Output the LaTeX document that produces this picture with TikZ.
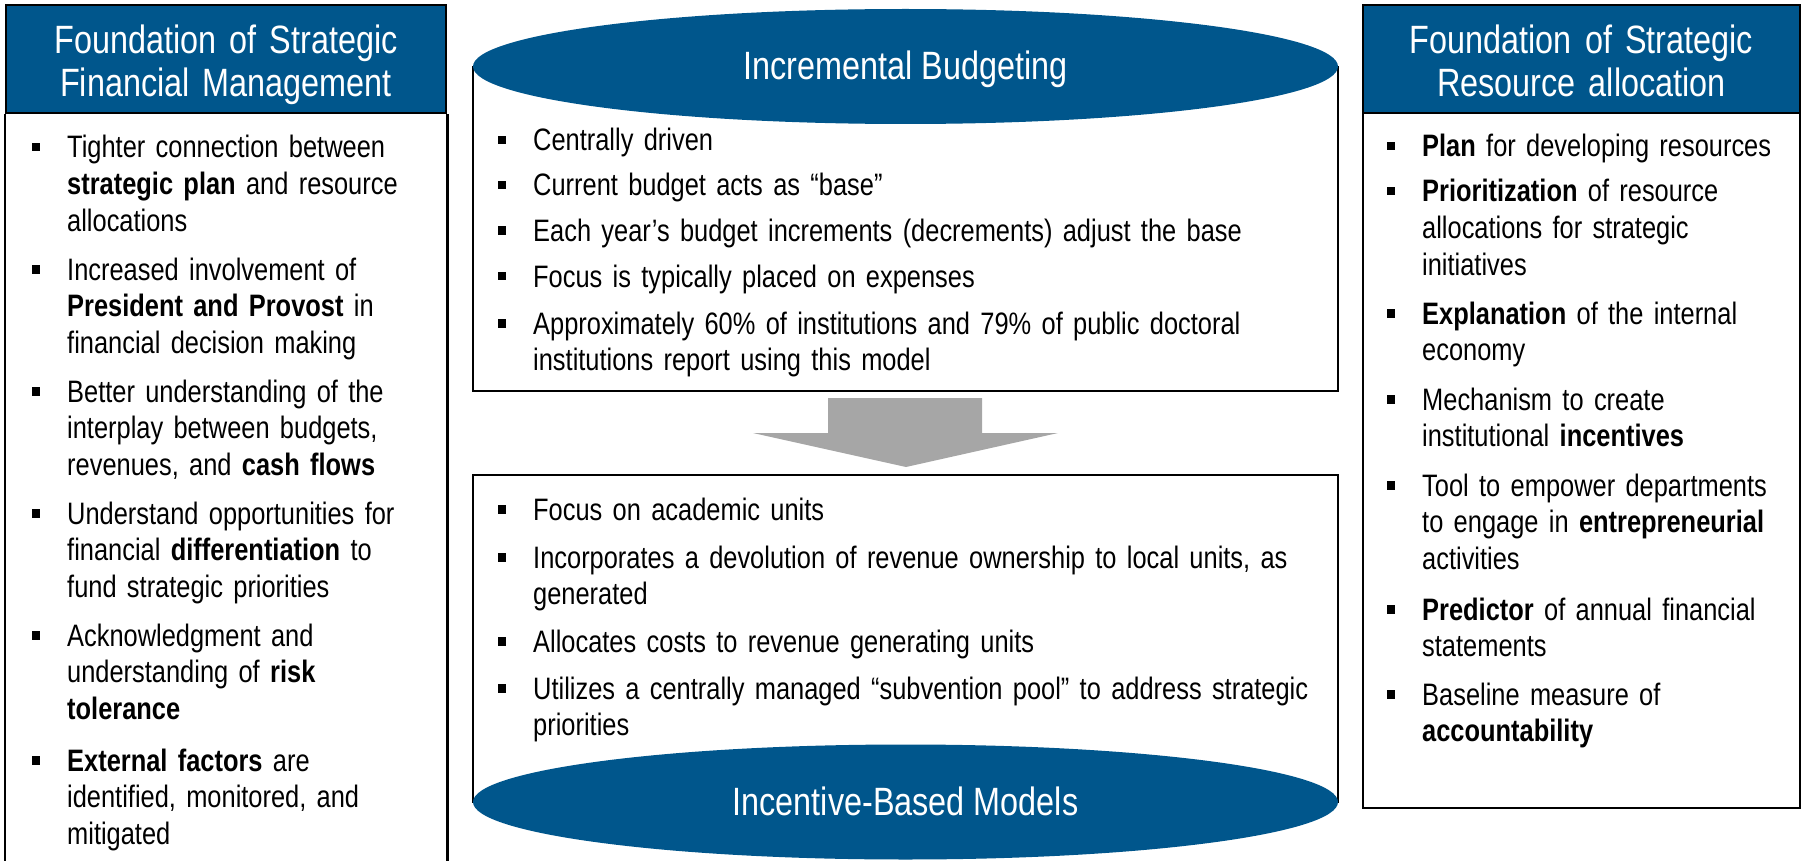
\documentclass[tikz,border=0pt]{standalone}
\usepackage{fontspec}
\setmainfont{Liberation Sans}[FakeStretch=0.82]
\usetikzlibrary{shapes.geometric}
\definecolor{hdrblue}{HTML}{00568C}
\definecolor{arrowgray}{HTML}{A6A6A6}
\newcommand{\bodyfont}{\fontsize{31}{36.6}\selectfont}
\newcommand{\headfont}{\fontsize{39.5}{43}\selectfont}
% square bullet hung to the left of the first line
\newcommand{\bul}{\leavevmode\llap{\rule[6.5pt]{8.5pt}{8.5pt}\hspace{27pt}}}
\begin{document}
\begin{tikzpicture}[x=1pt,y=-1pt,
  panel/.style={draw=black, line width=2.5pt},
  hdrbox/.style={draw=black, line width=2.5pt, fill=hdrblue, minimum height=108pt, inner sep=0pt},
  hdrtext/.style={text=white, font=\headfont, text width=430pt, align=center, inner sep=0pt, anchor=base},
  textbox/.style={draw=black, line width=2.5pt, minimum width=865pt, inner sep=0pt},
  capsule/.style={ellipse, fill=hdrblue, minimum width=865pt, minimum height=115pt, inner sep=0pt,
    text=white, font=\headfont, text height=27pt, text depth=0pt},
  bitem/.style={anchor=base west, inner sep=0pt, font=\bodyfont, align=left},
]
\useasboundingbox (0,0) rectangle (1804,861);
\clip (0,0) rectangle (1804,861);

% ---------- left column ----------
\node[hdrbox, minimum width=440pt] (lhead) at (226,59) {};
\node[hdrtext] (ltitle) at (226,53.5) {Foundation of Strategic\\Financial Management};
\draw[panel] (lhead.south west) -- ++(0,760);
\draw[panel] (lhead.south east) -- ++(0,760);

\node[bitem, text width=420pt] (l1) at (67,158) {\bul Tighter connection between\\\textbf{strategic plan} and resource\\allocations};
\node[bitem, text width=420pt] (l2) at (67,280) {\bul Increased involvement of\\\textbf{President and Provost} in\\financial decision making};
\node[bitem, text width=420pt] (l3) at (67,402) {\bul Better understanding of the\\interplay between budgets,\\revenues, and \textbf{cash flows}};
\node[bitem, text width=420pt] (l4) at (67,524) {\bul Understand opportunities for\\financial \textbf{differentiation} to\\fund strategic priorities};
\node[bitem, text width=420pt] (l5) at (67,646) {\bul Acknowledgment and\\understanding of \textbf{risk}\\\textbf{tolerance}};
\node[bitem, text width=420pt] (l6) at (67,771) {\bul \textbf{External factors} are\\identified, monitored, and\\mitigated};

% ---------- centre column ----------
\node[textbox, minimum height=324pt] (topbox) at (905.5,229) {};
\node[capsule] (topcap) at (905.5,66.5) {Incremental Budgeting};

\node[bitem, text width=900pt] (m1) at (533,151) {\bul Centrally driven};
\node[bitem, text width=900pt] (m2) at (533,196) {\bul Current budget acts as “base”};
\node[bitem, text width=900pt] (m3) at (533,241) {\bul Each year’s budget increments (decrements) adjust the base};
\node[bitem, text width=900pt] (m4) at (533,287) {\bul Focus is typically placed on expenses};
\node[bitem, text width=900pt] (m5) at (533,334) {\bul Approximately 60\% of institutions and 79\% of public doctoral\\institutions report using this model};

% block arrow between the two models
\fill[arrowgray] (828,398) -- (982,398) -- (982,433) -- (1058,433) -- (906,467)
  -- (753,433) -- (828,433) -- cycle;

\node[textbox, minimum height=327pt] (lowbox) at (905.5,638.5) {};
\node[capsule] (lowcap) at (905.5,802) {Incentive-Based Models};

\node[bitem, text width=900pt] (n1) at (533,520) {\bul Focus on academic units};
\node[bitem, text width=900pt] (n2) at (533,568) {\bul Incorporates a devolution of revenue ownership to local units, as\\generated};
\node[bitem, text width=900pt] (n3) at (533,652) {\bul Allocates costs to revenue generating units};
\node[bitem, text width=900pt] (n4) at (533,699) {\bul Utilizes a centrally managed “subvention pool” to address strategic\\priorities};

% ---------- right column ----------
\draw[panel] (1363,5) rectangle (1800,808);
\node[hdrbox, minimum width=437pt] (rhead) at (1581.5,59) {};
\node[hdrtext] (rtitle) at (1581.5,53.5) {Foundation of Strategic\\Resource allocation};

\node[bitem, text width=420pt] (r1) at (1422,157) {\bul \textbf{Plan} for developing resources};
\node[bitem, text width=420pt] (r2) at (1422,202) {\bul \textbf{Prioritization} of resource\\allocations for strategic\\initiatives};
\node[bitem, text width=420pt] (r3) at (1422,324) {\bul \textbf{Explanation} of the internal\\economy};
\node[bitem, text width=420pt] (r4) at (1422,410) {\bul Mechanism to create\\institutional \textbf{incentives}};
\node[bitem, text width=420pt] (r5) at (1422,496) {\bul Tool to empower departments\\to engage in \textbf{entrepreneurial}\\activities};
\node[bitem, text width=420pt] (r6) at (1422,620) {\bul \textbf{Predictor} of annual financial\\statements};
\node[bitem, text width=420pt] (r7) at (1422,705) {\bul Baseline measure of\\\textbf{accountability}};
\end{tikzpicture}
\end{document}
